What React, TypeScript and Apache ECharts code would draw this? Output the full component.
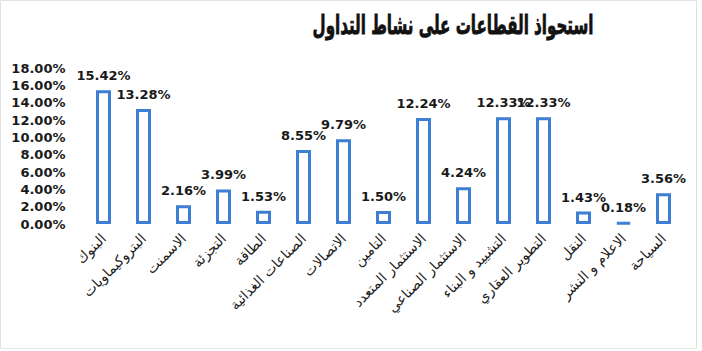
import React, { useEffect, useRef } from "react";
import * as echarts from "echarts";

const titleText = "استحواذ القطاعات على نشاط التداول";
const categories = [
  "البنوك",
  "البتروكيماويات",
  "الاسمنت",
  "التجزئة",
  "الطاقة",
  "الصناعات الغذائية",
  "الاتصالات",
  "التامين",
  "الاستثمار المتعدد",
  "الاستثمار الصناعي",
  "التشييد و البناء",
  "التطوير العقاري",
  "النقل",
  "الاعلام و النشر",
  "السياحة",
];
const values = [15.42, 13.28, 2.16, 3.99, 1.53, 8.55, 9.79, 1.5, 12.24, 4.24, 12.33, 12.33, 1.43, 0.18, 3.56];

export default function App() {
  const ref = useRef<HTMLDivElement>(null);
  useEffect(() => {
    if (!ref.current) return;
    document.body.style.margin = "0";
    const chart = echarts.init(ref.current, null, { renderer: "svg" });
    chart.setOption({
      animation: false,
      backgroundColor: "#ffffff",
      graphic: [
        {
          type: "rect",
          shape: { x: 0.5, y: 0.5, width: 696, height: 348 },
          style: { fill: "none", stroke: "#e2e2e2", lineWidth: 1 },
          silent: true,
        },
        {
          type: "text",
          x: 453,
          y: 25,
          scaleX: 0.58,
          style: {
            text: titleText,
            fill: "#111",
            font: "bold 26px 'DejaVu Sans'",
            textAlign: "center",
            textVerticalAlign: "middle",
            stroke: "#111",
            lineWidth: 0.8,
          },
        },
      ],
      grid: { left: 83.5, right: 18.5, top: 68, bottom: 127, containLabel: false },
      xAxis: {
        type: "category",
        data: categories,
        axisLine: { show: false },
        axisTick: { show: false },
        axisLabel: {
          interval: 0,
          rotate: 45,
          margin: 12,
          color: "#222",
          fontFamily: "DejaVu Sans",
          fontSize: 14,
        },
      },
      yAxis: {
        type: "value",
        min: 0,
        max: 18,
        interval: 2,
        axisLine: { show: false },
        axisTick: { show: false },
        splitLine: { show: false },
        axisLabel: {
          margin: 18,
          color: "#1a1a1a",
          fontFamily: "DejaVu Sans",
          fontWeight: "bold",
          fontSize: 13,
          formatter: (v: number) => v.toFixed(2) + "%",
        },
      },
      series: [
        {
          type: "bar",
          data: values,
          barWidth: 15,
          itemStyle: { color: "#ffffff", borderColor: "#3d7fd2", borderWidth: 3 },
          label: {
            show: true,
            position: "top",
            distance: 8,
            color: "#1a1a1a",
            fontFamily: "DejaVu Sans",
            fontWeight: "bold",
            fontSize: 13,
            formatter: (p: any) => p.value.toFixed(2) + "%",
          },
        },
      ],
    });
    return () => chart.dispose();
  }, []);
  return <div ref={ref} style={{ width: 702, height: 351 }} />;
}
